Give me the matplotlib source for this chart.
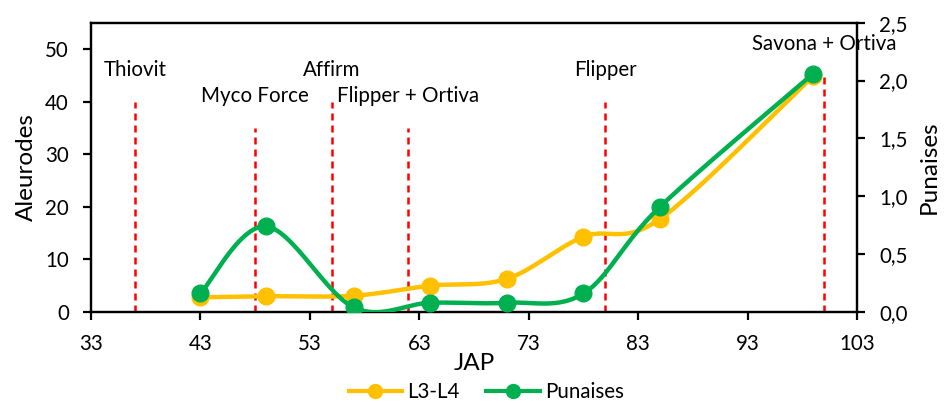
import numpy as np
import matplotlib

matplotlib.use("Agg")
import matplotlib.pyplot as plt
from matplotlib.lines import Line2D

plt.rcParams["font.family"] = ["Lato", "DejaVu Sans"]

# JAP (days) and counts
jap = [43, 49, 57, 64, 71, 78, 85, 99]
l3_l4 = [2.8, 3.0, 3.1, 5.0, 6.3, 14.3, 17.7, 44.9]          # Aleurodes, left axis
punaises = [0.16, 0.74, 0.04, 0.08, 0.08, 0.16, 0.91, 2.06]   # right axis

# treatments: day, marker-line height (left axis units), label
treat_days = [37, 48, 55, 62, 80, 100]
treat_tops = [40, 35, 40, 35, 40, 45]
treat_names = ["Thiovit", "Myco Force", "Affirm", "Flipper + Ortiva", "Flipper", "Savona + Ortiva"]

x_ticks = [33, 43, 53, 63, 73, 83, 93, 103]
left_ticks = [0, 10, 20, 30, 40, 50]
right_ticks = [0.0, 0.5, 1.0, 1.5, 2.0, 2.5]

YELLOW = "#FFC000"
GREEN = "#00B050"


def smooth(xs, ys, n=30):
    """Excel-like smoothed line (uniform Catmull-Rom / Bezier)."""
    p = np.column_stack([xs, ys]).astype(float)
    out = [p[0]]
    t = np.linspace(0, 1, n)[1:]
    for i in range(len(p) - 1):
        p0 = p[i - 1] if i > 0 else p[i]
        p1, p2 = p[i], p[i + 1]
        p3 = p[i + 2] if i + 2 < len(p) else p[i + 1]
        c1 = p1 + (p2 - p0) / 6
        c2 = p2 - (p3 - p1) / 6
        seg = ((1 - t) ** 3)[:, None] * p1 + (3 * (1 - t) ** 2 * t)[:, None] * c1 \
            + (3 * (1 - t) * t ** 2)[:, None] * c2 + (t ** 3)[:, None] * p2
        out.extend(seg)
    out = np.array(out)
    return out[:, 0], out[:, 1]


fig = plt.figure(figsize=(9.46, 4.03), dpi=100)
ax = fig.add_axes([0.0962, 0.2258, 0.8098, 0.7179])
ax2 = ax.twinx()

fs = 14.8
fs_lab = 17.5

# treatment markers
for d, top, name in zip(treat_days, treat_tops, treat_names):
    ax.plot([d, d], [0, top], color="#FF0000", lw=1.8, dashes=(2.8, 2.0), zorder=1)
    ax.text(d, top + 6.0, name, ha="center", va="center", fontsize=fs, clip_on=False, zorder=5)

sx, sy = smooth(jap, l3_l4)
ax.plot(sx, sy, color=YELLOW, lw=3.2, zorder=3)
ax.plot(jap, l3_l4, "o", color=YELLOW, ms=12, zorder=4)

gx, gy = smooth(jap, punaises)
ax2.plot(gx, gy, color=GREEN, lw=3.2, zorder=3)
ax2.plot(jap, punaises, "o", color=GREEN, ms=12, zorder=4)

ax.set_xlim(33, 103)
ax.set_ylim(0, 55)
ax2.set_ylim(0, 2.5)
ax.set_xticks(x_ticks)
ax.set_yticks(left_ticks)
ax2.set_yticks(right_ticks)
ax2.set_yticklabels([f"{v:.1f}".replace(".", ",") for v in right_ticks])

for a in (ax, ax2):
    for s in a.spines.values():
        s.set_linewidth(1.6)
        s.set_color("black")
    a.tick_params(direction="out", length=6, width=1.6, labelsize=fs, pad=10)

ax.set_xlabel("JAP", fontsize=fs_lab, labelpad=-1)
ax.set_ylabel("Aleurodes", fontsize=fs_lab, labelpad=6)
ax2.set_ylabel("Punaises", fontsize=fs_lab, labelpad=8)

handles = [
    Line2D([], [], color=YELLOW, lw=3, marker="o", ms=10),
    Line2D([], [], color=GREEN, lw=3, marker="o", ms=10),
]
fig.legend(handles, ["L3-L4", "Punaises"], loc="center", bbox_to_anchor=(0.514, 0.027),
           ncol=2, frameon=False, fontsize=fs, handlelength=2.6, columnspacing=1.3,
           handletextpad=0.25, borderpad=0)

fig.savefig("out.png", dpi=100)
